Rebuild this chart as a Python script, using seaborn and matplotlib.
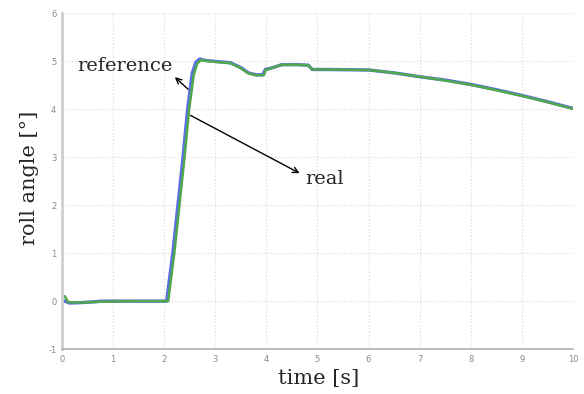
import matplotlib
matplotlib.use("Agg")
import matplotlib.pyplot as plt
import seaborn as sns
import pandas as pd

sns.set_style("whitegrid")

# reference roll angle (blue)
t_ref = [0.0, 0.05, 0.15, 0.4, 0.8, 1.5, 2.05, 2.17, 2.27, 2.37, 2.46, 2.55, 2.62,
         2.7, 2.8, 3.0, 3.3, 3.5, 3.65, 3.8, 3.93, 3.98, 4.1, 4.3, 4.6, 4.82, 4.9,
         5.2, 6.0, 6.5, 7.0, 7.5, 8.0, 8.5, 9.0, 9.5, 10.0]
roll_ref = [0.03, 0.0, -0.04, -0.03, 0.0, 0.0, 0.0, 1.0, 2.0, 3.0, 4.0, 4.75, 4.98,
            5.05, 5.02, 5.0, 4.97, 4.87, 4.76, 4.72, 4.72, 4.83, 4.86, 4.93, 4.93,
            4.92, 4.83, 4.83, 4.82, 4.76, 4.68, 4.61, 4.52, 4.41, 4.29, 4.16, 4.02]

# measured roll angle (green)
t_real = [0.0, 0.06, 0.12, 0.4, 0.8, 1.5, 2.08, 2.2, 2.3, 2.4, 2.49, 2.58, 2.65,
          2.73, 2.82, 3.0, 3.3, 3.5, 3.65, 3.8, 3.95, 3.99, 4.1, 4.3, 4.6, 4.82,
          4.9, 5.2, 6.0, 6.5, 7.0, 7.5, 8.0, 8.5, 9.0, 9.5, 10.0]
roll_real = [0.1, 0.1, -0.02, -0.03, -0.01, 0.0, 0.0, 1.0, 2.0, 3.0, 4.0, 4.72,
             4.96, 5.03, 5.01, 4.99, 4.96, 4.86, 4.75, 4.71, 4.71, 4.82, 4.86,
             4.93, 4.93, 4.92, 4.83, 4.83, 4.82, 4.76, 4.68, 4.6, 4.51, 4.4,
             4.28, 4.15, 4.01]

x_ticks = list(range(0, 11))
y_ticks = list(range(-1, 7))

serif = ["DejaVu Serif"]

fig = plt.figure(figsize=(5.84, 3.94), dpi=100)
ax = fig.add_axes([0.106, 0.114, 0.875, 0.852])

df_ref = pd.DataFrame({"t": t_ref, "roll": roll_ref})
df_real = pd.DataFrame({"t": t_real, "roll": roll_real})
sns.lineplot(data=df_ref, x="t", y="roll", ax=ax, color="#5b6fe6", lw=2.4)
sns.lineplot(data=df_real, x="t", y="roll", ax=ax, color="#4fa84a", lw=1.8)

ax.set_xlim(0, 10)
ax.set_ylim(-1, 6)
ax.set_xticks(x_ticks)
ax.set_yticks(y_ticks)
ax.set_yticklabels([str(v) for v in y_ticks])
ax.grid(True, color="#dcdcdc", linestyle=":", lw=0.9)
ax.tick_params(axis="both", labelsize=6, colors="#888888", direction="in",
               length=3, width=0.6, pad=4)

for side in ["top", "right"]:
    ax.spines[side].set_visible(False)
ax.spines["left"].set_color("#cfcfcf")
ax.spines["left"].set_linewidth(2)
ax.spines["bottom"].set_color("#b0b0b0")
ax.spines["bottom"].set_linewidth(1.2)

ax.set_xlabel("time [s]", fontsize=15, family=serif)
ax.set_ylabel("roll angle [°]", fontsize=15, family=serif)
ax.xaxis.set_label_coords(0.503, -0.06)
ax.yaxis.set_label_coords(-0.045, 0.51)

arrow = dict(arrowstyle="->", color="black", lw=1)
ax.annotate("", xy=(2.17, 4.71), xytext=(2.51, 4.38), arrowprops=arrow)
ax.annotate("", xy=(4.7, 2.64), xytext=(2.47, 3.9), arrowprops=arrow)
ax.text(0.31, 4.9, "reference", fontsize=14, family=serif, ha="left", va="center")
ax.text(4.76, 2.55, "real", fontsize=14, family=serif, ha="left", va="center")

plt.savefig("out.png", dpi=100)
plt.close()
